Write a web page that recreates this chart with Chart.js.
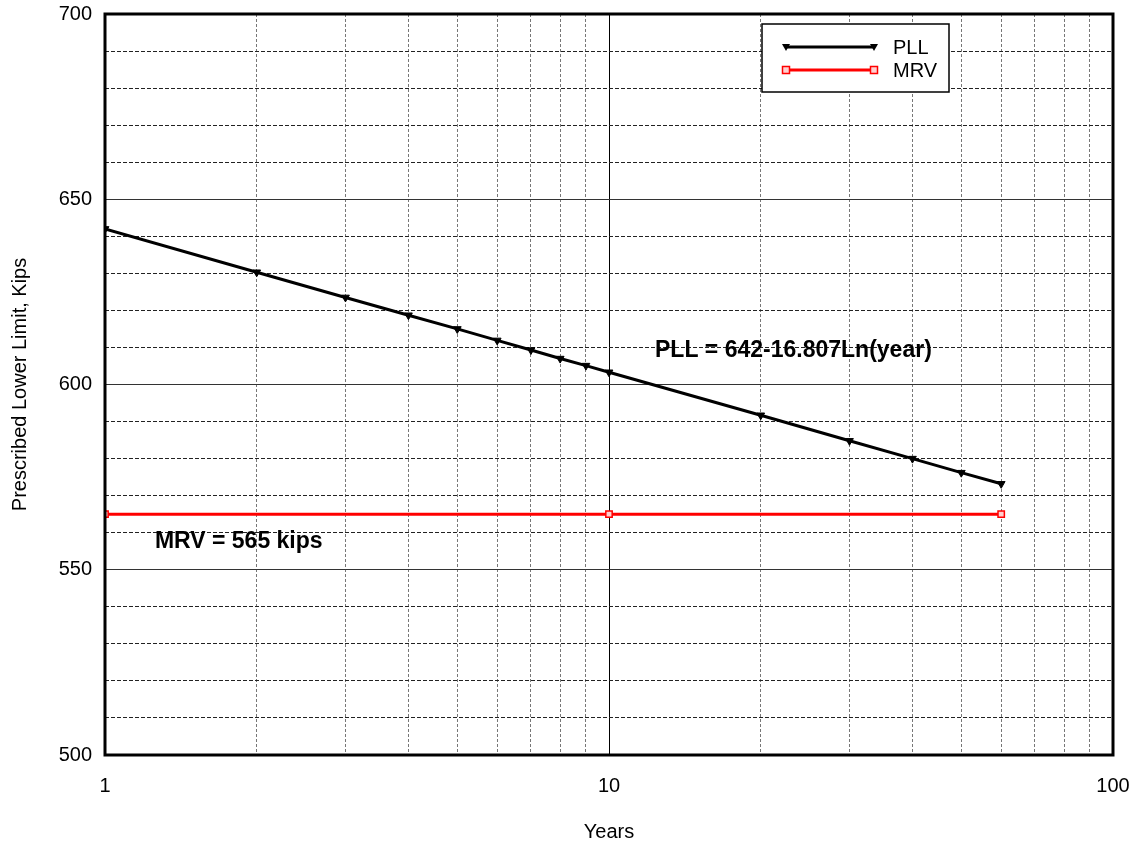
<!DOCTYPE html>
<html>
<head>
<meta charset="utf-8">
<script src="https://cdn.jsdelivr.net/npm/chart.js@4.4.1/dist/chart.umd.min.js"></script>
<style>
  html, body { margin: 0; padding: 0; background: #fff; }
  #wrap { width: 1137px; height: 846px; }
</style>
</head>
<body>
<div id="wrap"><canvas id="chart" width="1137" height="846"></canvas></div>
<script>
// data
const pllYears = [1, 2, 3, 4, 5, 6, 7, 8, 9, 10, 20, 30, 40, 50, 60];
const pllValues = [642, 630.3, 623.5, 618.7, 615.0, 611.9, 609.3, 607.0, 605.1, 603.3, 591.7, 584.8, 580.0, 576.2, 573.2];
const mrvYears = [1, 10, 60];
const mrvValues = [565, 565, 565];
const xTicks = [1, 2, 3, 4, 5, 6, 7, 8, 9, 10, 20, 30, 40, 50, 60, 70, 80, 90, 100];
const xLabels = [1, 10, 100];
const yLabels = [500, 550, 600, 650, 700];

const FONT = '"Liberation Sans", Arial, sans-serif';

const toPoints = (xs, ys) => xs.map((x, i) => ({ x, y: ys[i] }));

// frame, legend box and the two text notes
const extras = {
    id: 'extras',
    afterDraw(chart) {
        const { ctx, chartArea: a, scales } = chart;
        ctx.save();
        ctx.strokeStyle = '#000';
        ctx.lineWidth = 3;
        ctx.strokeRect(a.left, a.top, a.right - a.left, a.bottom - a.top);

        // notes
        ctx.fillStyle = '#000';
        ctx.font = 'bold 23px ' + FONT;
        ctx.textBaseline = 'middle';
        ctx.fillText('PLL = 642-16.807Ln(year)', scales.x.getPixelForValue(12.34), scales.y.getPixelForValue(609.0));
        ctx.fillText('MRV = 565 kips', scales.x.getPixelForValue(1.256), scales.y.getPixelForValue(557.5));

        // legend
        const bx = 762, by = 24, bw = 187, bh = 68;
        ctx.fillStyle = '#fff';
        ctx.fillRect(bx, by, bw, bh);
        ctx.lineWidth = 1.5;
        ctx.strokeStyle = '#000';
        ctx.strokeRect(bx, by, bw, bh);

        const rows = [
            { label: 'PLL', color: '#000', y: 47, marker: 'tri' },
            { label: 'MRV', color: '#ff0000', y: 70, marker: 'rect' }
        ];
        rows.forEach(r => {
            ctx.strokeStyle = r.color;
            ctx.lineWidth = 3;
            ctx.beginPath();
            ctx.moveTo(786, r.y);
            ctx.lineTo(874, r.y);
            ctx.stroke();
            [786, 874].forEach(px => {
                if (r.marker === 'tri') {
                    ctx.fillStyle = '#000';
                    ctx.beginPath();
                    ctx.moveTo(px - 4, r.y - 3);
                    ctx.lineTo(px + 4, r.y - 3);
                    ctx.lineTo(px, r.y + 4);
                    ctx.closePath();
                    ctx.fill();
                } else {
                    ctx.fillStyle = '#ffd0d0';
                    ctx.fillRect(px - 3.5, r.y - 3.5, 7, 7);
                    ctx.lineWidth = 1.5;
                    ctx.strokeRect(px - 3.5, r.y - 3.5, 7, 7);
                }
            });
            ctx.fillStyle = '#000';
            ctx.font = '20px ' + FONT;
            ctx.textBaseline = 'middle';
            ctx.fillText(r.label, 893, r.y + 1);
        });
        ctx.restore();
    }
};

new Chart(document.getElementById('chart').getContext('2d'), {
    type: 'line',
    data: {
        datasets: [{
            label: 'PLL',
            data: toPoints(pllYears, pllValues),
            borderColor: '#000',
            borderWidth: 3,
            pointStyle: 'triangle',
            rotation: 180,
            pointRadius: 4.5,
            pointBackgroundColor: '#000',
            pointBorderColor: '#000',
            pointBorderWidth: 1,
            tension: 0
        }, {
            label: 'MRV',
            data: toPoints(mrvYears, mrvValues),
            borderColor: '#ff0000',
            borderWidth: 3,
            pointStyle: 'rect',
            pointRadius: 4.5,
            pointBackgroundColor: '#ffd0d0',
            pointBorderColor: '#ff0000',
            pointBorderWidth: 1.5,
            tension: 0
        }]
    },
    options: {
        responsive: false,
        animation: false,
        layout: { padding: { left: 0, right: 24, top: 14, bottom: 0 } },
        plugins: { legend: { display: false }, tooltip: { enabled: false } },
        scales: {
            x: {
                type: 'logarithmic',
                min: 1,
                max: 100,
                afterBuildTicks: s => { s.ticks = xTicks.map(v => ({ value: v })); },
                afterFit: s => { s.height = 91; s.paddingLeft = 0; s.paddingRight = 0; },
                ticks: {
                    autoSkip: false,
                    maxRotation: 0,
                    padding: 19,
                    color: '#000',
                    font: { family: FONT, size: 20 },
                    callback: v => xLabels.includes(v) ? String(v) : ''
                },
                grid: {
                    drawTicks: false,
                    lineWidth: 1,
                    color: c => (c.tick && c.tick.value === 10) ? '#000' : '#777'
                },
                border: {
                    display: false,
                    dash: c => (c.tick && c.tick.value === 10) ? [] : [3, 2]
                },
                title: {
                    display: true,
                    text: 'Years',
                    color: '#000',
                    font: { family: FONT, size: 20 },
                    padding: { top: 2, bottom: 2 }
                }
            },
            y: {
                min: 500,
                max: 700,
                afterFit: s => { s.width = 105; s.paddingTop = 0; s.paddingBottom = 0; },
                ticks: {
                    stepSize: 10,
                    autoSkip: false,
                    padding: 13,
                    color: '#000',
                    font: { family: FONT, size: 20 },
                    callback: v => yLabels.includes(v) ? String(v) : ''
                },
                grid: {
                    drawTicks: false,
                    lineWidth: 1,
                    color: c => (c.tick && c.tick.value % 50 === 0) ? '#333' : '#222'
                },
                border: {
                    display: false,
                    dash: c => (c.tick && c.tick.value % 50 === 0) ? [] : [4, 2]
                },
                title: {
                    display: true,
                    text: 'Prescribed Lower Limit, Kips',
                    color: '#000',
                    font: { family: FONT, size: 20 },
                    padding: { top: 8, bottom: 8 }
                }
            }
        }
    },
    plugins: [extras]
});
</script>
</body>
</html>
